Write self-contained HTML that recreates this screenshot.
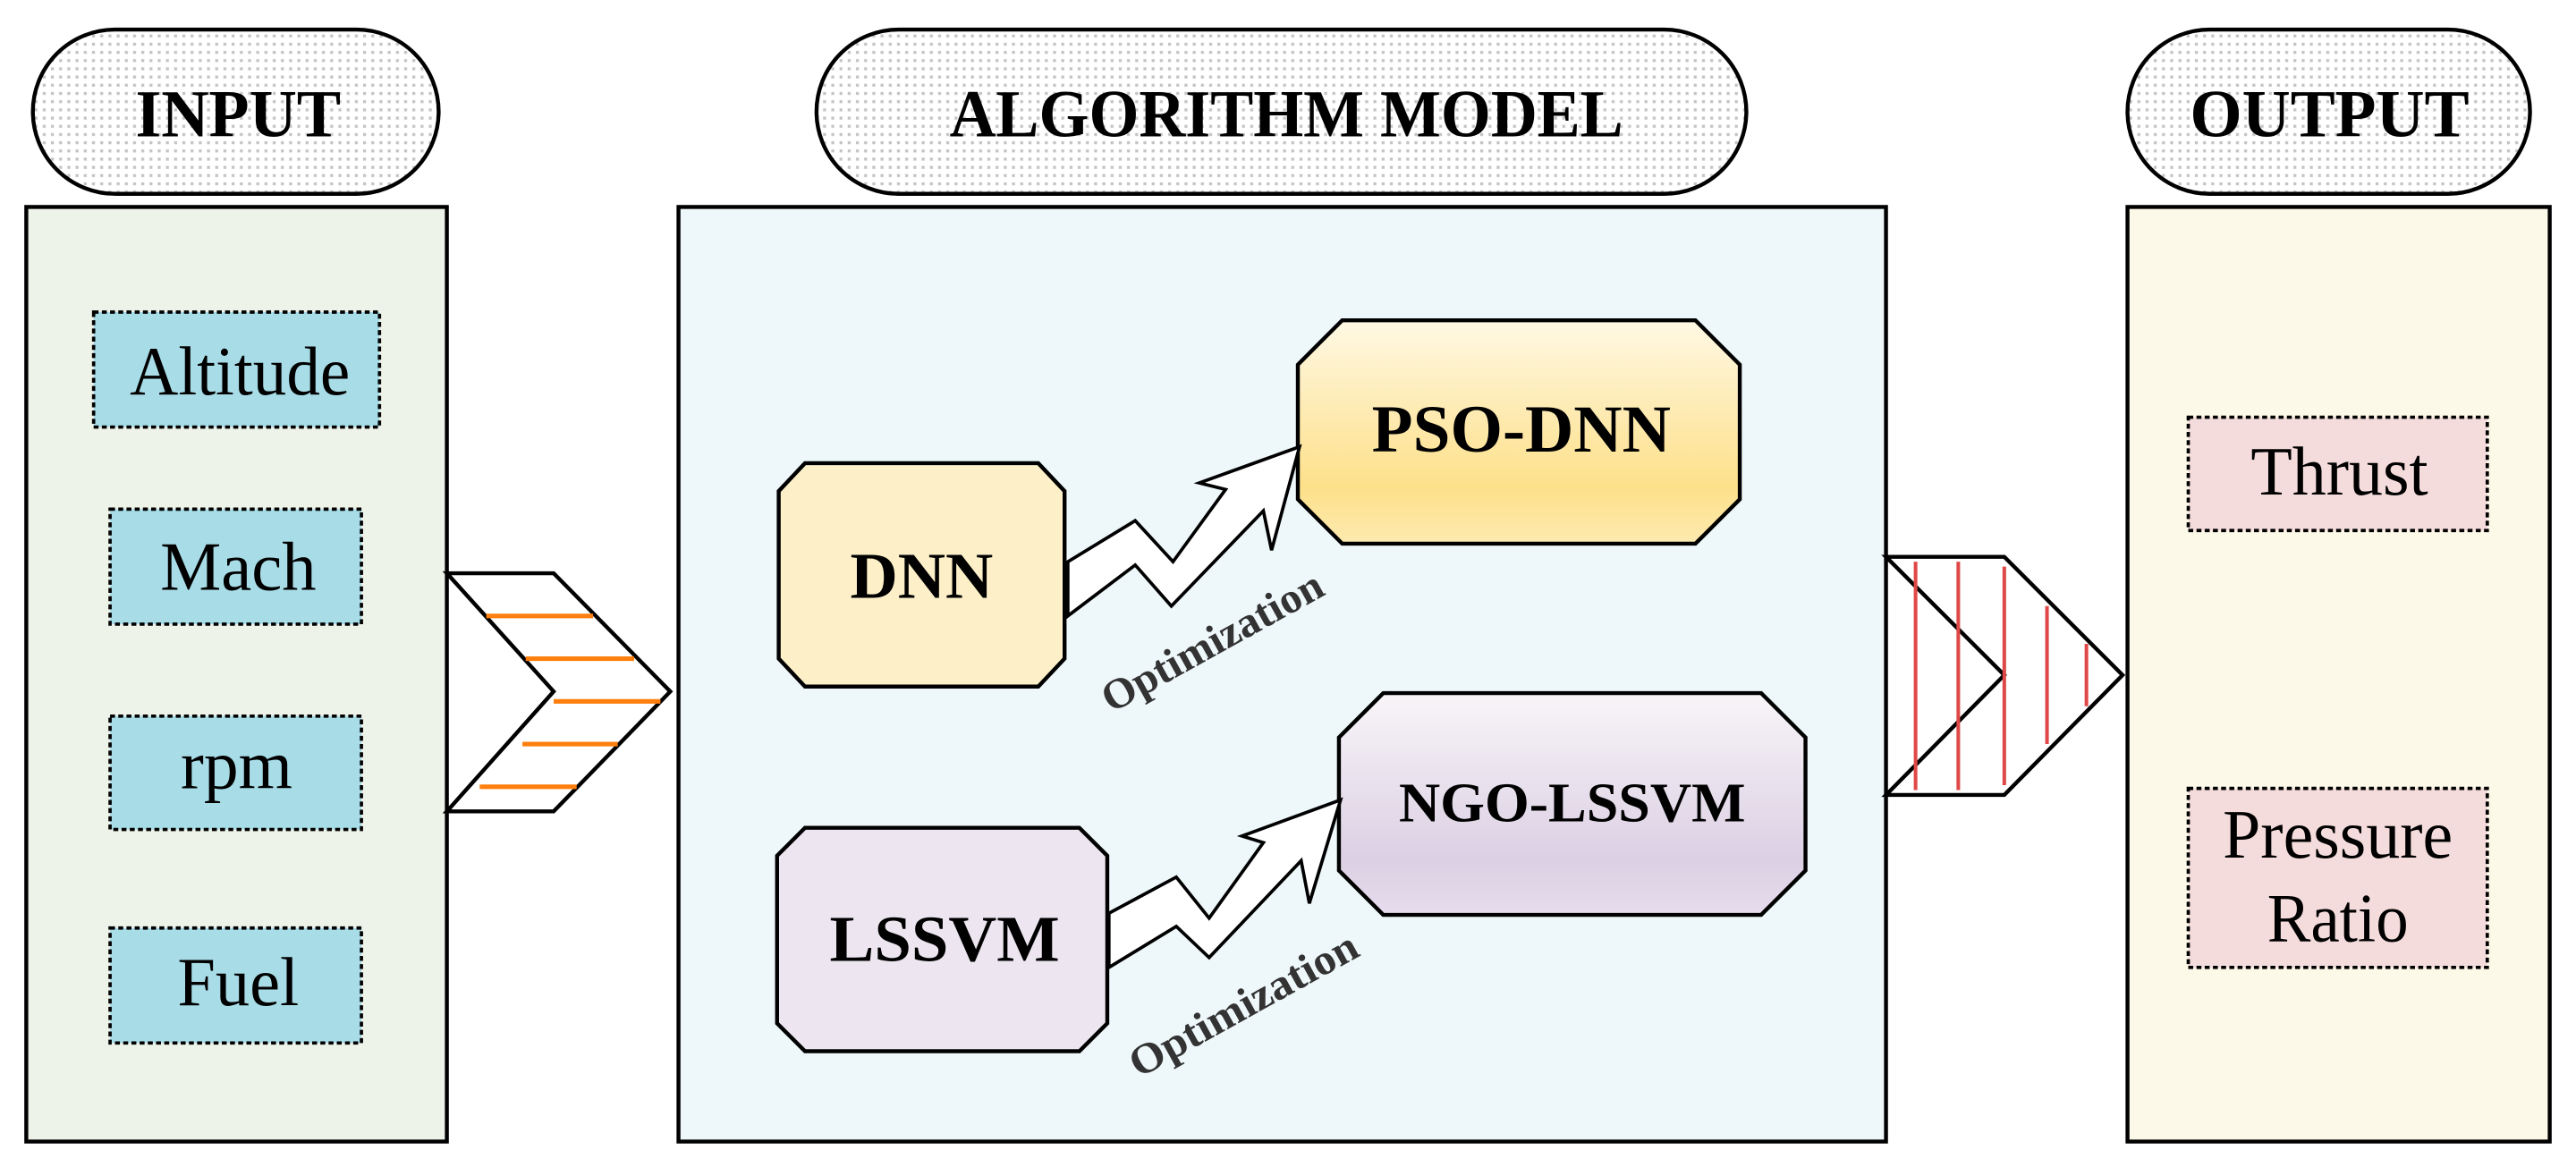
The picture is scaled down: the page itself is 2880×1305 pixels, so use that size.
<!DOCTYPE html>
<html><head><meta charset="utf-8"><style>html,body{margin:0;padding:0;background:#fff}svg{display:block}</style></head>
<body>
<svg width="2880" height="1305" viewBox="0 0 1568 710.5" preserveAspectRatio="none" xmlns="http://www.w3.org/2000/svg" font-family="Liberation Serif, serif">
<defs>
<pattern id="dots" width="5" height="5" patternUnits="userSpaceOnUse"><rect width="5" height="5" fill="#fff"/><rect x="1" y="1" width="1.8" height="1.8" fill="#c4c4c4"/></pattern>
<linearGradient id="gy" x1="0" y1="0" x2="0" y2="1"><stop offset="0" stop-color="#fff8e4"/><stop offset="0.75" stop-color="#fde08a"/><stop offset="1" stop-color="#fdeab0"/></linearGradient>
<linearGradient id="gp" x1="0" y1="0" x2="0" y2="1"><stop offset="0" stop-color="#f8f5f8"/><stop offset="0.75" stop-color="#dcd0e4"/><stop offset="1" stop-color="#e6dcec"/></linearGradient>
</defs>
<g stroke="#000" stroke-width="2.4">
<rect x="20" y="18" width="247" height="100" rx="50" fill="url(#dots)"/>
<rect x="497" y="18" width="566" height="100" rx="50" fill="url(#dots)"/>
<rect x="1295" y="18" width="245" height="100" rx="50" fill="url(#dots)"/>
<rect x="16" y="126" width="256" height="569" fill="#eef3ea"/>
<rect x="413" y="126" width="735" height="569" fill="#eef7fa"/>
<rect x="1295" y="126" width="257" height="569" fill="#fdf9e8"/>
</g>
<g stroke="#000" stroke-width="2" stroke-dasharray="3,2" fill="#a8dde8">
<rect x="57" y="190" width="174" height="70"/>
<rect x="67" y="310" width="153" height="70"/>
<rect x="67" y="436" width="153" height="69"/>
<rect x="67" y="565" width="153" height="70"/>
<rect x="1332" y="254" width="182" height="69" fill="#f5dcdc"/>
<rect x="1332" y="480" width="182" height="109" fill="#f5dcdc"/>
</g>
<polygon points="272,349 337,349 408,421 337,494 272,494 337,421" fill="#fff" stroke="#000" stroke-width="2.4"/>
<g stroke="#ff7f0e" stroke-width="2.8">
<line x1="296" y1="375" x2="361" y2="375"/><line x1="320" y1="401" x2="386" y2="401"/>
<line x1="337" y1="427" x2="402" y2="427"/><line x1="318" y1="453" x2="376" y2="453"/><line x1="292" y1="479" x2="351" y2="479"/>
</g>
<polygon points="1148,339 1220,339 1292,411 1220,484 1148,484 1220,411" fill="#fff" stroke="#000" stroke-width="2.4"/>
<g stroke="#e04848" stroke-width="2.2">
<line x1="1166" y1="342" x2="1166" y2="481"/><line x1="1192" y1="342" x2="1192" y2="481"/>
<line x1="1220" y1="345" x2="1220" y2="478"/><line x1="1246" y1="369" x2="1246" y2="453"/><line x1="1270" y1="392" x2="1270" y2="430"/>
</g>
<g stroke="#000" stroke-width="2.4">
<polygon points="490,282 632,282 648,299 648,401 632,418 490,418 474,401 474,299" fill="#fdf0c8"/>
<polygon points="817,195 1032,195 1059,222 1059,304 1032,331 817,331 790,304 790,222" fill="url(#gy)"/>
<polygon points="490,504 657,504 674,521 674,623 657,640 490,640 473,623 473,521" fill="#ede6f0"/>
<polygon points="842,422 1072,422 1099,449 1099,530 1072,557 842,557 815,530 815,449" fill="url(#gp)"/>
</g>
<g stroke="#000" stroke-width="2" fill="#fff" stroke-linejoin="miter">
<polygon points="650,342 691,317 714,342 746,298 730,294 791,272 774,335 769,311 713,369 691,344 650,375"/>
<polygon points="675,556 716,534 736,559 769,513 756,509 816,487 797,550 792,524 736,583 716,564 675,589"/>
</g>
<g font-weight="bold" text-anchor="middle" fill="#000">
<text x="145" y="83" font-size="41" textLength="125" lengthAdjust="spacingAndGlyphs">INPUT</text>
<text x="783" y="83" font-size="41" textLength="410" lengthAdjust="spacingAndGlyphs">ALGORITHM MODEL</text>
<text x="1418" y="83" font-size="41" textLength="170" lengthAdjust="spacingAndGlyphs">OUTPUT</text>
<text x="561" y="364" font-size="40" textLength="87" lengthAdjust="spacingAndGlyphs">DNN</text>
<text x="926" y="275" font-size="41" textLength="182" lengthAdjust="spacingAndGlyphs">PSO-DNN</text>
<text x="575" y="585" font-size="40" textLength="140" lengthAdjust="spacingAndGlyphs">LSSVM</text>
<text x="957" y="500" font-size="34" textLength="211" lengthAdjust="spacingAndGlyphs">NGO-LSSVM</text>
<text font-size="26" fill="#333" textLength="150" lengthAdjust="spacingAndGlyphs" transform="translate(742,398) rotate(-29)">Optimization</text>
<text font-size="26" fill="#333" textLength="155" lengthAdjust="spacingAndGlyphs" transform="translate(761,619) rotate(-29)">Optimization</text>
</g>
<g text-anchor="middle" font-size="42" fill="#000">
<text x="146" y="240" textLength="134" lengthAdjust="spacingAndGlyphs">Altitude</text>
<text x="145" y="359" textLength="95" lengthAdjust="spacingAndGlyphs">Mach</text>
<text x="144" y="480" textLength="68" lengthAdjust="spacingAndGlyphs">rpm</text>
<text x="145" y="612" textLength="74" lengthAdjust="spacingAndGlyphs">Fuel</text>
<text x="1424" y="301" textLength="108" lengthAdjust="spacingAndGlyphs">Thrust</text>
<text x="1423" y="522" textLength="140" lengthAdjust="spacingAndGlyphs">Pressure</text>
<text x="1423" y="573" textLength="86" lengthAdjust="spacingAndGlyphs">Ratio</text>
</g>
</svg>
</body></html>
